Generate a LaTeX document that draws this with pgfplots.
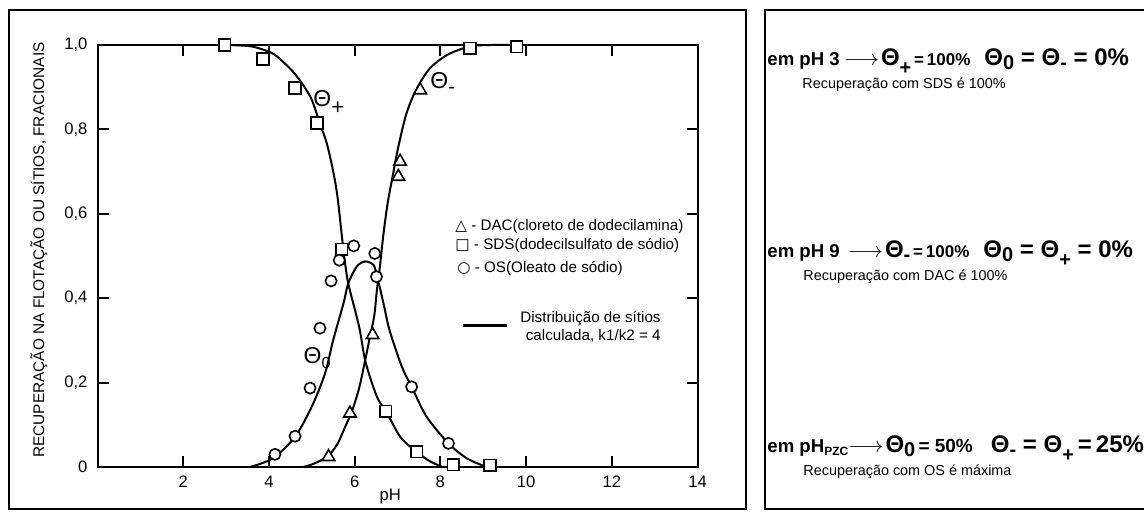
\documentclass[border=0pt]{standalone}
\usepackage{pgfplots}
\pgfplotsset{compat=1.18}
\usepackage{fontspec}
\setmainfont{Liberation Sans}
\newfontfamily\dejavu{DejaVu Sans}
\newcommand{\fs}[1]{\fontsize{#1}{#1}\selectfont}
\newcommand{\Th}{{\fs{12}\bfseries Θ}}
\newcommand{\subplus}{\raisebox{-4.2pt}{\fs{10}\bfseries +}}
\newcommand{\subminus}{\raisebox{-2pt}{\fs{10}\bfseries -}}
\newcommand{\subzero}{\raisebox{-2pt}{\fs{10}\bfseries 0}}
\newcommand{\arr}{{\fs{11}$\longrightarrow$}}
\begin{document}
\begin{tikzpicture}
\begin{axis}[
  at={(48.75pt,22.5pt)}, anchor=south west,
  width=300pt, height=211pt, scale only axis,
  xmin=0, xmax=14, ymin=0, ymax=1,
  clip=false,
  xtick={2,4,...,14},
  ytick={0,0.2,0.4,0.6,0.8,1},
  yticklabels={0,{0,2},{0,4},{0,6},{0,8},{1,0}},
  /pgf/number format/assume math mode=true,
  tick label style={font=\fs{8.3}},
  yticklabel style={xshift=-1.5pt},
  xticklabel style={yshift=-1pt},
  major tick length=5.5pt,
  axis line style={line width=1pt},
  every tick/.style={line width=1pt, black},
  xlabel={pH},
  xlabel style={font=\fs{8.3}, at={(axis description cs:0.488,-0.071)}, anchor=center},
  ylabel={RECUPERAÇÃO NA FLOTAÇÃO OU SÍTIOS, FRACIONAIS},
  ylabel style={font=\fs{7.7}, at={(axis description cs:-0.0975,0.514)}, anchor=center},
]
% Theta+ curve
\addplot[smooth, black, line width=1pt] coordinates {
(2.97,1.000) (3.30,0.999) (3.63,0.996) (4.00,0.984) (4.20,0.972) (4.56,0.937)
(4.80,0.905) (5.00,0.870) (5.19,0.814) (5.35,0.767) (5.50,0.700) (5.60,0.640)
(5.71,0.540) (5.78,0.480) (5.85,0.435) (6.00,0.375) (6.12,0.325) (6.24,0.255)
(6.40,0.200) (6.55,0.160) (6.73,0.132) (6.90,0.100) (7.06,0.072) (7.25,0.052)
(7.45,0.036) (7.70,0.017) (7.95,0.004) (8.05,0.000)};
% Theta- curve
\addplot[smooth, black, line width=1pt] coordinates {
(4.80,0.000) (5.00,0.006) (5.20,0.015) (5.39,0.027) (5.60,0.055) (5.80,0.100)
(5.93,0.130) (6.10,0.185) (6.24,0.250) (6.36,0.310) (6.46,0.360) (6.52,0.420)
(6.59,0.475) (6.67,0.550) (6.77,0.625) (6.90,0.696) (7.02,0.759) (7.21,0.838)
(7.45,0.897) (7.76,0.945) (8.15,0.976) (8.53,0.992) (8.76,0.998) (9.20,1.000) (9.93,1.000)};
% Theta0 curve
\addplot[smooth, black, line width=1pt] coordinates {
(3.56,0.000) (4.10,0.021) (4.61,0.072) (5.00,0.143) (5.31,0.222) (5.50,0.301)
(5.74,0.388) (5.85,0.435) (6.05,0.475) (6.24,0.487) (6.44,0.479) (6.51,0.455)
(6.60,0.420) (6.70,0.375) (6.82,0.322) (7.10,0.238) (7.33,0.190) (7.68,0.119)
(8.19,0.056) (8.61,0.021) (9.00,0.003) (9.10,0.000)};
% SDS squares
\addplot[only marks, mark=square*, mark size=2.9pt, mark options={fill=white, draw=black, line width=0.8pt}] coordinates {
(2.97,1.000) (3.86,0.967) (4.61,0.898) (5.12,0.815) (5.70,0.516) (6.72,0.132)
(7.45,0.036) (8.30,0.005) (9.16,0.004) (8.69,0.992) (9.78,0.996)};
% DAC triangles
\addplot[only marks, mark=triangle*, mark size=3.6pt, mark options={fill=white, draw=black, line width=0.8pt}] coordinates {
(5.39,0.024) (5.89,0.127) (6.42,0.313) (7.02,0.688) (7.06,0.724) (7.53,0.893)};
% OS circles
\addplot[only marks, mark=*, mark size=2.8pt, mark options={fill=white, draw=black, line width=0.8pt}] coordinates {
(4.14,0.030) (4.61,0.073) (4.96,0.187) (5.19,0.329) (5.45,0.441) (5.64,0.490)
(5.98,0.524) (6.47,0.506) (6.51,0.451) (7.33,0.190) (8.19,0.056)};
% curve labels
\node[anchor=base west, inner sep=0] at (axis cs:5.03,0.854) {\fs{11.5}Θ\raisebox{-4pt}{\fs{11}+}};
\node[anchor=base west, inner sep=0] at (axis cs:7.76,0.897) {\fs{11.5}Θ\raisebox{-2.5pt}{\fs{10}-}};
\node[anchor=base west, inner sep=0] at (axis cs:4.80,0.246) {\fs{11.5}Θ\raisebox{-2.5pt}{\fs{8}0}};
\end{axis}
\begin{scope}[shift={(0pt,256pt)}, x=0.5pt, y=-0.5pt]
\draw[line width=1pt] (9,10) rectangle (746,509);
\draw[line width=1pt] (765,10) rectangle (1300,509);
% legend
\node[anchor=base west, inner sep=0, font=\fs{7.6}] at (455,230.5) {{\dejavu △} - DAC(cloreto de dodecilamina)};
\node[anchor=base west, inner sep=0, font=\fs{7.6}] at (455,249.5) {{\dejavu □} - SDS(dodecilsulfato de sódio)};
\node[anchor=base west, inner sep=0, font=\fs{7.6}] at (457,273) {{\dejavu ○} - OS(Oleato de sódio)};
\node[anchor=west, inner sep=0] at (463,326) {\rule[-0.75pt]{22pt}{1.5pt}};
\node[anchor=base east, inner sep=0, font=\fs{7.6}] at (661,323) {Distribuição de sítios};
\node[anchor=base east, inner sep=0, font=\fs{7.6}] at (661,341) {calculada, k1/k2 = 4};
% right panel
\node[anchor=base west, inner sep=0] at (767,66) {{\fs{9.3}\bfseries em pH 3}\hspace{2pt}\arr\hspace{1pt}\Th\subplus{\fs{8.5}\bfseries\,=\,100\%}\hspace{7pt}\Th\subzero{\fs{12}\bfseries\ =\ }\Th\subminus{\fs{12}\bfseries\ =\ 0\%}};
\node[anchor=base west, inner sep=0, font=\fs{7.2}] at (802,89) {Recuperação com SDS é 100\%};
\node[anchor=base west, inner sep=0] at (767,258) {{\fs{9.3}\bfseries em pH 9}\hspace{4pt}\arr\hspace{1pt}\Th\subminus{\fs{8.5}\bfseries\,=\,100\%}\hspace{7pt}\Th\subzero{\fs{12}\bfseries\ =\ }\Th\subplus{\fs{12}\bfseries\ =\ 0\%}};
\node[anchor=base west, inner sep=0, font=\fs{7.2}] at (803,281) {Recuperação com DAC é 100\%};
\node[anchor=base west, inner sep=0] at (767,453) {{\fs{9.3}\bfseries em pH}\raisebox{-1.5pt}{\fs{6}\bfseries PZC}\arr\hspace{1pt}\Th\subzero{\fs{9.5}\bfseries\,=\ 50\%}\hspace{9pt}\Th\subminus{\fs{12}\bfseries\ =\ }\Th\subplus{\fs{12}\bfseries\,=\,25\%}};
\node[anchor=base west, inner sep=0, font=\fs{7.2}] at (803,476) {Recuperação com OS é máxima};
\end{scope}
\pgfresetboundingbox
\path[use as bounding box] (0,0) rectangle (572pt,256pt);
\end{tikzpicture}
\end{document}
